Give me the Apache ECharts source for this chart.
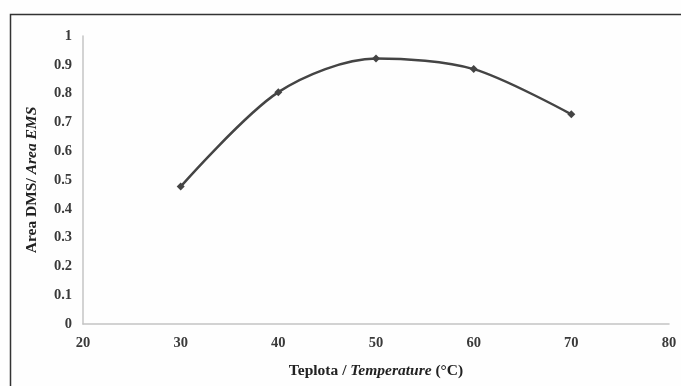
<!DOCTYPE html>
<html>
<head>
<meta charset="utf-8">
<script src="https://cdn.jsdelivr.net/npm/echarts@6/dist/echarts.min.js"></script>
<style>
  html, body { margin: 0; padding: 0; background: #fff; }
  #chart { width: 681px; height: 386px; }
</style>
</head>
<body>
<div id="chart"></div>
<script>
// values
const temps = [30, 40, 50, 60, 70];
const ratio = [0.477, 0.805, 0.922, 0.885, 0.728];
const xTicks = [20, 80, 10];   // min, max, step
const yTicks = [0, 1, 0.1];

const myChart = echarts.init(document.getElementById('chart'));

const serif = '"Liberation Serif", "DejaVu Serif", serif';

const option = {
  backgroundColor: '#fefefe',
  animation: false,
  graphic: [{
    type: 'rect',
    shape: { x: 10.5, y: 14.5, width: 700, height: 400 },
    style: { fill: null, stroke: '#333', lineWidth: 1.5 }
  }],
  grid: {
    left: 83,
    right: 12,
    top: 36,
    bottom: 62
  },
  xAxis: {
    type: 'value',
    min: xTicks[0],
    max: xTicks[1],
    interval: xTicks[2],
    name: '{b|Teplota / }{bi|Temperature}{b| (°C)}',
    nameLocation: 'middle',
    nameGap: 39,
    nameTextStyle: {
      rich: {
        b: { fontFamily: serif, fontWeight: 'bold', fontSize: 15.5, color: '#222' },
        bi: { fontFamily: serif, fontWeight: 'bold', fontStyle: 'italic', fontSize: 15.5, color: '#222' }
      }
    },
    axisLine: { show: true, lineStyle: { color: '#c4c4c4', width: 1.5 } },
    axisTick: { show: false },
    splitLine: { show: false },
    axisLabel: {
      margin: 12,
      fontFamily: serif,
      fontWeight: 'bold',
      fontSize: 14.5,
      color: '#3a3a3a'
    }
  },
  yAxis: {
    type: 'value',
    min: yTicks[0],
    max: yTicks[1],
    interval: yTicks[2],
    name: '{b|Area DMS/ }{bi|Area EMS}',
    nameLocation: 'middle',
    nameGap: 43,
    nameRotate: 90,
    nameTextStyle: {
      rich: {
        b: { fontFamily: serif, fontWeight: 'bold', fontSize: 15.5, color: '#222' },
        bi: { fontFamily: serif, fontWeight: 'bold', fontStyle: 'italic', fontSize: 15.5, color: '#222' }
      }
    },
    axisLine: { show: true, lineStyle: { color: '#c4c4c4', width: 1.5 } },
    axisTick: { show: false },
    splitLine: { show: false },
    axisLabel: {
      margin: 11,
      fontFamily: serif,
      fontWeight: 'bold',
      fontSize: 14.5,
      color: '#3a3a3a',
      formatter: function (v) { return String(Math.round(v * 10) / 10); }
    }
  },
  series: [{
    type: 'line',
    data: temps.map(function (t, i) { return [t, ratio[i]]; }),
    smooth: 0.3,
    symbol: 'diamond',
    symbolSize: 8,
    lineStyle: { color: '#444', width: 2.5 },
    itemStyle: { color: '#444' }
  }]
};

myChart.setOption(option);
</script>
</body>
</html>
